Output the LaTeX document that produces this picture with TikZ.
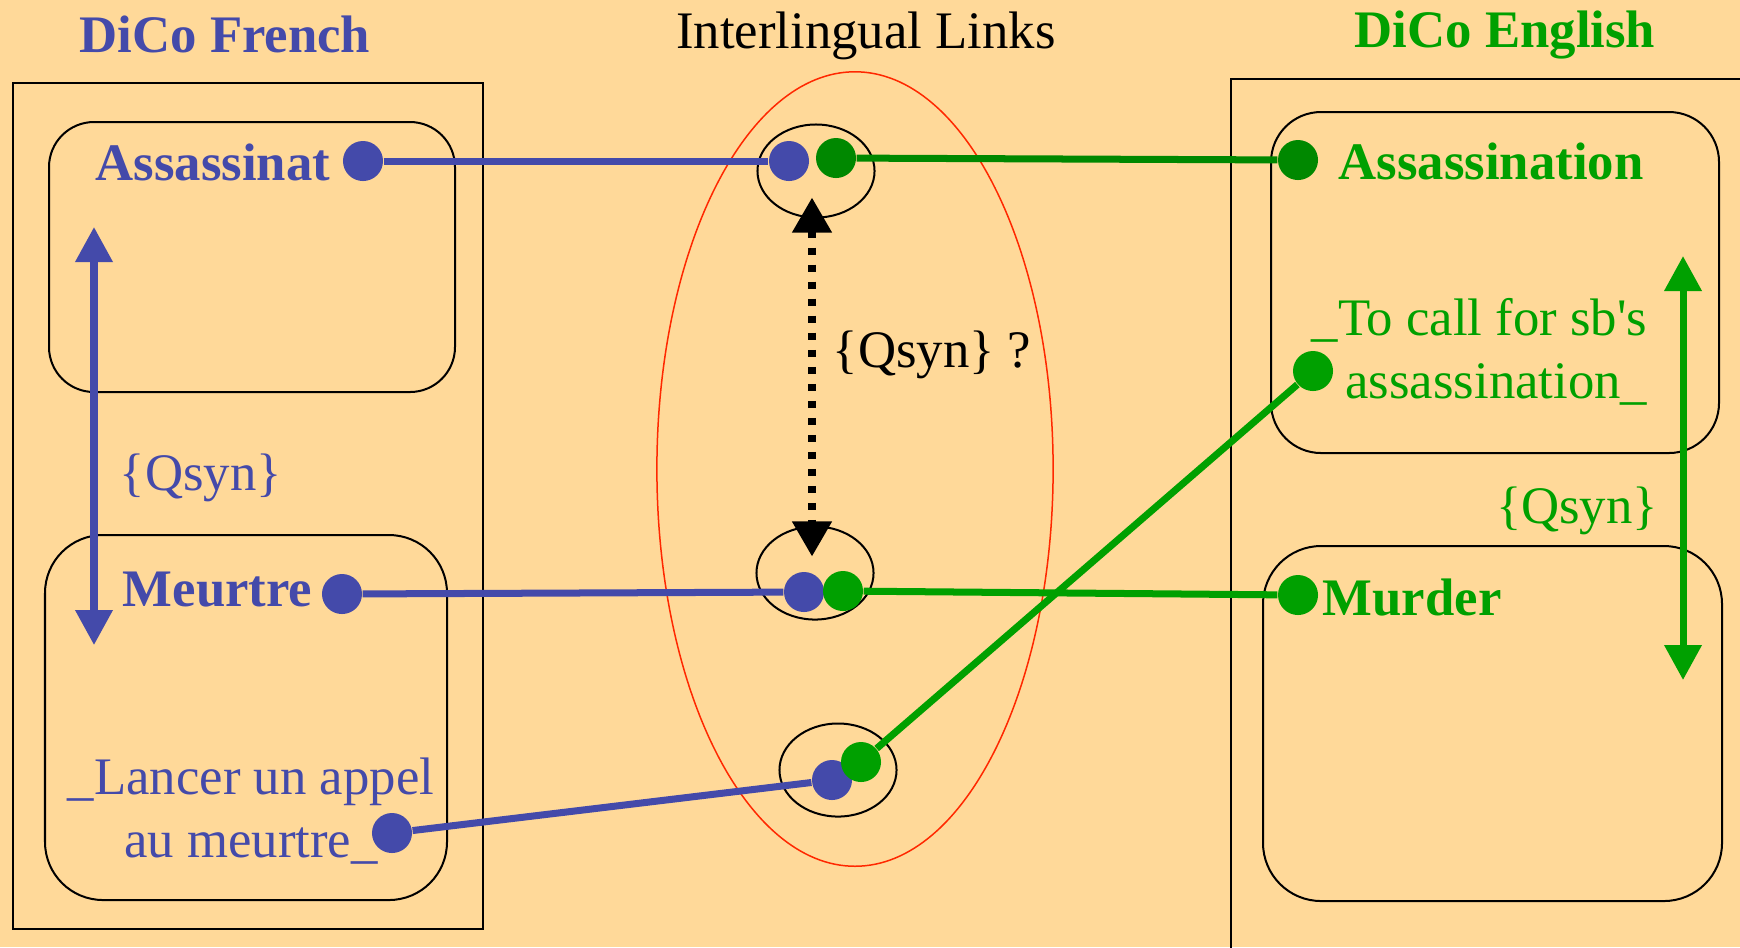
\documentclass[tikz,border=0pt]{standalone}
\usepackage{fontspec}
\setmainfont{Liberation Serif}[Ligatures=TeXOff]
\usetikzlibrary{shapes.geometric,arrows.meta}
\definecolor{paper}{RGB}{255,217,153}
\definecolor{frblue}{RGB}{68,74,170}
\definecolor{engreen}{RGB}{0,160,0}
\definecolor{lkgreen}{RGB}{0,136,0}
\definecolor{hull}{RGB}{255,40,0}
\begin{document}
\begin{tikzpicture}[x=0.01cm,y=-0.01cm,
  txt/.style={inner sep=0pt,font=\fontsize{15}{18}\selectfont},
  head/.style={inner sep=0pt,font=\fontsize{15}{18}\selectfont\bfseries},
  dot/.style={circle,fill,inner sep=0pt,minimum size=0.4cm},
  lnk/.style={line width=0.07cm},
  box/.style={draw,line width=0.02cm},
  pair/.style={draw,ellipse,line width=0.02cm,inner sep=0pt,minimum width=1.17cm,minimum height=0.93cm},
  qsyn/.style={line width=0.07cm,{Triangle[width=0.36cm,length=0.35cm]}-{Triangle[width=0.36cm,length=0.35cm]}},
  qlink/.style={line width=0.075cm,dash pattern=on 0.07cm off 0.1cm,{Triangle[width=0.38cm,length=0.35cm]}-{Triangle[width=0.38cm,length=0.35cm]}}]
\useasboundingbox (0,0) rectangle (1740,947);
\fill[paper] (0,0) rectangle (1740,947);

\node[head,frblue,anchor=base] (tFr) at (225,52) {DiCo French};
\node[txt,anchor=base] (tLk) at (866,48) {Interlingual Links};
\node[head,engreen,anchor=base] (tEn) at (1505,47) {DiCo English};

\draw[box] (13,83) rectangle (483,929);
\draw[box,rounded corners=0.45cm] (49,122) rectangle (455,392);
\draw[box,rounded corners=0.58cm] (45,535) rectangle (447,900);
\draw[box] (1231,79) rectangle (1760,970);
\draw[box,rounded corners=0.5cm] (1271,112) rectangle (1719,453);
\draw[box,rounded corners=0.58cm] (1263,546) rectangle (1722,901);
\draw[hull,line width=0.015cm] (855,469) ellipse [x radius=1.98cm, y radius=3.97cm];

\node[pair] (lkA) at (816,171) {};
\node[pair] (lkB) at (815,573) {};
\node[pair] (lkC) at (838,770) {};

\node[head,frblue,anchor=base east] (wAss) at (331,180) {Assassinat};
\node[head,frblue,anchor=base east] (wMeu) at (313,606) {Meurtre};
\node[txt,frblue,align=center] (wLan) at (251,811) {\_Lancer un appel\\au meurtre\_};
\node[txt,frblue,anchor=base] (qFr) at (201,490) {\{Qsyn\}};
\node[head,engreen,anchor=base west] (wAsn) at (1338,179) {Assassination};
\node[head,engreen,anchor=base west] (wMur) at (1322,615) {Murder};
\node[txt,engreen,align=right,anchor=east] (wCal) at (1648,352) {\_To call for sb's\\assassination\_};
\node[txt,engreen,anchor=base] (qEn) at (1577,523) {\{Qsyn\}};
\node[txt,anchor=base] (qLk) at (932,367) {\{Qsyn\} ?};

\node[dot,frblue] (fA) at (363,161) {};
\node[dot,frblue] (fB) at (342,594) {};
\node[dot,frblue] (fC) at (392,833) {};
\node[dot,frblue] (cAf) at (789,161) {};\node[dot,lkgreen] (cAe) at (836,158) {};
\node[dot,frblue] (cBf) at (804,592) {};\node[dot,engreen] (cBe) at (843,591) {};
\node[dot,frblue] (cCf) at (832,780) {};\node[dot,engreen] (cCe) at (861,762) {};
\node[dot,lkgreen] (eA) at (1298,160) {};
\node[dot,engreen] (eB) at (1298,595) {};
\node[dot,engreen] (eC) at (1313,371) {};

\draw[lnk,frblue] (fA) -- (cAf);
\draw[lnk,frblue] (fB) -- (cBf);
\draw[lnk,frblue] (fC) -- (cCf);
\draw[lnk,lkgreen] (cAe) -- (eA);
\draw[lnk,engreen] (cBe) -- (eB);
\draw[lnk,engreen] (cCe) -- (eC);

\coordinate (frT) at (94,227) ;\coordinate (frB) at (94,645) ;
\coordinate (enT) at (1683,256) ;\coordinate (enB) at (1683,680) ;
\draw[qsyn,frblue] (frT) -- (frB);
\draw[qsyn,engreen] (enT) -- (enB);
\draw[qlink] ([xshift=-0.04cm,yshift=0.21cm]lkA.south) -- ([xshift=-0.03cm,yshift=-0.31cm]lkB.north);
\end{tikzpicture}
\end{document}
